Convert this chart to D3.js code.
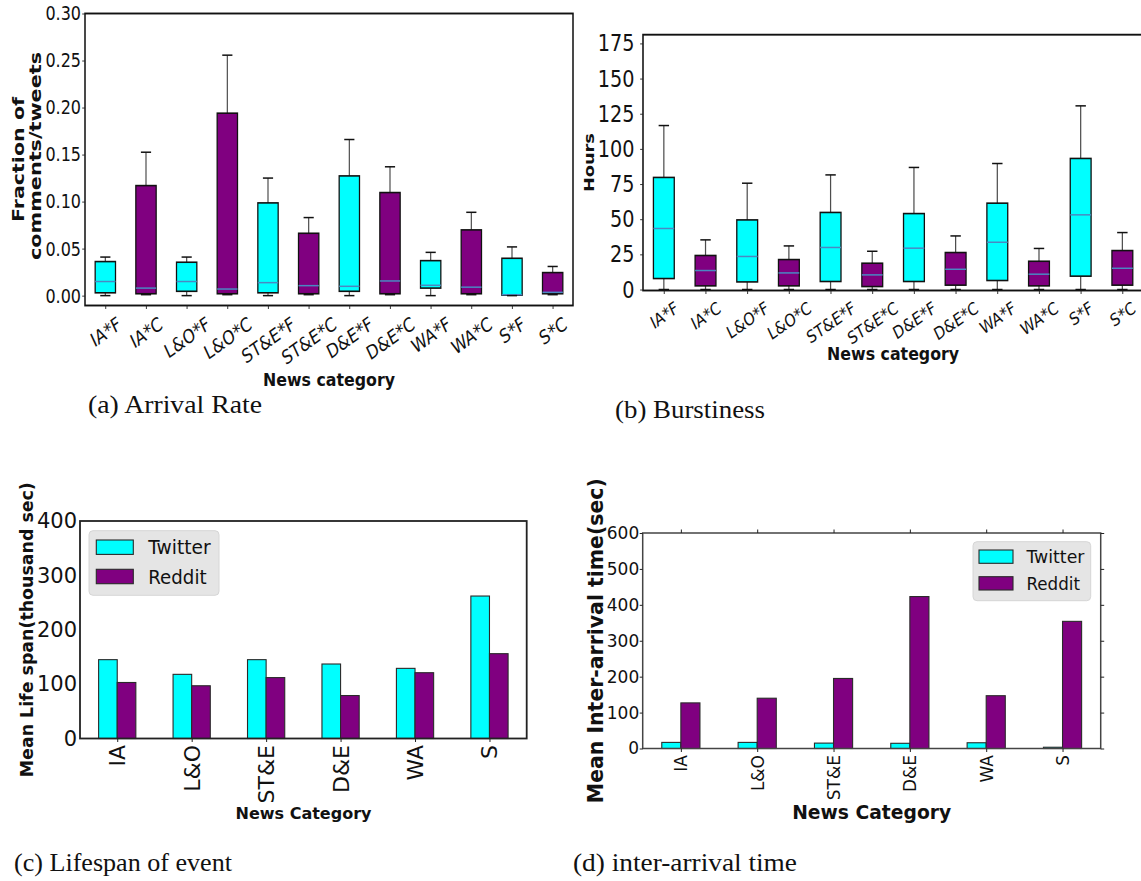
<!DOCTYPE html>
<html>
<head>
<meta charset="utf-8">
<script src="https://cdn.jsdelivr.net/npm/d3@7"></script>
<style>
  body { margin: 0; background: #fff; }
  svg { display: block; }
</style>
</head>
<body>
<svg id="fig" width="1141" height="881"></svg>
<script>
// ---------- data ----------
const boxCats = ["IA*F", "IA*C", "L&O*F", "L&O*C", "ST&E*F", "ST&E*C",
                 "D&E*F", "D&E*C", "WA*F", "WA*C", "S*F", "S*C"];

// (a) arrival rate: lower whisker, Q1, median, Q3, upper whisker
const rateLow  = [0, 0.001, 0, 0.001, 0, 0.001, 0, 0.001, 0, 0.001, 0, 0.001];
const rateQ1   = [0.003, 0.002, 0.0046, 0.002, 0.003, 0.002, 0.0046, 0.002, 0.008, 0.002, 0.0005, 0.002];
const rateMed  = [0.015, 0.008, 0.015, 0.007, 0.0138, 0.0106, 0.0099, 0.0156, 0.011, 0.009, 0.001, 0.0035];
const rateQ3   = [0.0362, 0.117, 0.0355, 0.194, 0.0986, 0.0663, 0.1273, 0.1096, 0.0372, 0.0699, 0.0397, 0.0245];
const rateHigh = [0.041, 0.1525, 0.041, 0.2557, 0.125, 0.083, 0.166, 0.137, 0.046, 0.0886, 0.0518, 0.031];
const rateTicks = [0, 0.05, 0.10, 0.15, 0.20, 0.25, 0.30];

// (b) burstiness in hours
const burstLow  = [0, 0, 0, 0, 0, 0, 0, 0, 0, 0, 0, 0];
const burstQ1   = [7.8, 2.6, 5.4, 2.6, 5.7, 2.1, 5.7, 3.1, 6.4, 2.6, 9.5, 3.1];
const burstMed  = [43.4, 13.5, 23.5, 11.8, 29.9, 10.4, 29.4, 14.4, 33.6, 10.9, 53.1, 15.1];
const burstQ3   = [79.7, 24.2, 49.5, 21.3, 54.8, 18.7, 54, 26.3, 61.4, 20.1, 93.2, 27.7];
const burstHigh = [116.6, 35.3, 75.6, 31, 81.5, 27.2, 86.8, 38.1, 89.6, 29.2, 130.6, 40.5];
const burstTicks = [0, 25, 50, 75, 100, 125, 150, 175];

// (c) and (d) grouped bars
const groupCats = ["IA", "L&O", "ST&E", "D&E", "WA", "S"];
const seriesNames = ["Twitter", "Reddit"];
const lifeTwitter = [145, 118, 145, 137, 129, 262];
const lifeReddit  = [103, 97, 112, 79, 121, 156];
const lifeTicks = [0, 100, 200, 300, 400];
const iatTwitter = [17, 17, 15, 14.5, 16, 3.5];
const iatReddit  = [127, 140, 195, 423, 147, 354];
const iatTicks = [0, 100, 200, 300, 400, 500, 600];

// ---------- helpers ----------
const TW = "#00ffff", RD = "#800080";
const SANS = "DejaVu Sans", SERIF = "Liberation Serif";
const svg = d3.select("#fig");
svg.append("rect").attr("width", 1141).attr("height", 881).attr("fill", "#fff");

function txt(parent, str, o) {
  const t = parent.append("text").text(str)
    .attr("font-family", o.family || SANS)
    .attr("font-size", o.size)
    .attr("font-weight", o.weight || "normal")
    .attr("fill", o.fill || "#111")
    .attr("text-anchor", o.anchor || "start")
    .attr("transform", `translate(${o.x},${o.y})` + (o.rotate ? ` rotate(${o.rotate})` : ""));
  if (o.len) t.attr("textLength", o.len).attr("lengthAdjust", "spacingAndGlyphs");
  return t;
}

function styleTicks(axisG, size) {
  axisG.select(".domain").remove();
  axisG.selectAll(".tick line").attr("stroke", "#222").attr("stroke-width", 1);
  axisG.selectAll(".tick text").attr("font-family", SANS).attr("font-size", size).attr("fill", "#111");
}

// Rotated labels whose rotated bounding box is centred under the tick
function slantLabels(axisG, size, pad, angle) {
  const a = angle * Math.PI / 180;
  axisG.selectAll(".tick text").each(function () {
    const L = this.getComputedTextLength();
    const h = size * 0.9;
    const H = L * Math.sin(a) + h * Math.cos(a);
    d3.select(this).attr("x", null).attr("y", null).attr("dy", null)
      .attr("text-anchor", "middle").attr("dominant-baseline", "central")
      .attr("transform", `translate(0,${pad + H / 2}) rotate(${-angle})`);
  });
}

function verticalLabels(axisG, pad) {
  axisG.selectAll(".tick text")
    .attr("x", null).attr("y", null).attr("dy", null)
    .attr("text-anchor", "end").attr("dominant-baseline", "central")
    .attr("transform", `translate(0,${pad}) rotate(-90)`);
}

// ---------- box panels (a), (b) ----------
function boxPanel(o) {
  const g = svg.append("g").attr("transform", `translate(${o.left},0) scale(${o.sx},1)`);
  const x = d3.scaleLinear().domain([0.5, 12.5]).range([0, o.w]);
  const y = d3.scaleLinear().domain(o.yDomain).range([o.bottom, o.top]);
  const half = x(1.25) - x(1);
  const capHalf = half / 2;

  const rows = boxCats.map((c, i) => ({
    c, i, lo: o.lo[i], q1: o.q1[i], med: o.med[i], q3: o.q3[i], hi: o.hi[i]
  }));
  const b = g.selectAll("g.box").data(rows).join("g").attr("class", "box")
    .attr("transform", d => `translate(${x(d.i + 1)},0)`);

  b.append("line").attr("y1", d => y(d.q3)).attr("y2", d => y(d.hi))
    .attr("stroke", "#4d4d4d").attr("stroke-width", 1.5);
  b.append("line").attr("y1", d => y(d.q1)).attr("y2", d => y(d.lo))
    .attr("stroke", "#4d4d4d").attr("stroke-width", 1.5);
  b.append("rect")
    .attr("x", -half).attr("width", 2 * half)
    .attr("y", d => y(d.q3)).attr("height", d => y(d.q1) - y(d.q3))
    .attr("fill", d => d.c.endsWith("F") ? TW : RD)
    .attr("stroke", "#111").attr("stroke-width", 1.6);
  b.append("line").attr("x1", -half).attr("x2", half)
    .attr("y1", d => y(d.med)).attr("y2", d => y(d.med))
    .attr("stroke", "#4a88c2").attr("stroke-width", 1.5);
  b.append("line").attr("x1", -capHalf).attr("x2", capHalf)
    .attr("y1", d => y(d.hi)).attr("y2", d => y(d.hi))
    .attr("stroke", "#111").attr("stroke-width", 1.5);
  b.append("line").attr("x1", -capHalf).attr("x2", capHalf)
    .attr("y1", d => y(d.lo)).attr("y2", d => y(d.lo))
    .attr("stroke", "#111").attr("stroke-width", 1.5);

  g.append("rect").attr("x", 0).attr("y", o.top)
    .attr("width", o.w).attr("height", o.bottom - o.top)
    .attr("fill", "none").attr("stroke", "#111").attr("stroke-width", 1.9);

  const ya = g.append("g").call(d3.axisLeft(y).tickValues(o.ticks).tickFormat(o.fmt)
    .tickSize(3.5).tickPadding(o.yPad));
  styleTicks(ya, o.yFont);

  const xa = g.append("g").attr("transform", `translate(0,${o.bottom})`)
    .call(d3.axisBottom(x).tickValues(d3.range(1, 13)).tickFormat(i => boxCats[i - 1]).tickSize(3.5));
  styleTicks(xa, o.xFont);
  slantLabels(xa, o.xFont, o.xPad, 30);
  return g;
}

// (a) Arrival rate
const gA = boxPanel({
  left: 85, sx: 0.8, w: 610, top: 13.5, bottom: 305.5,
  yDomain: [-0.0105, 0.30], ticks: rateTicks, fmt: d3.format(".2f"),
  lo: rateLow, q1: rateQ1, med: rateMed, q3: rateQ3, hi: rateHigh,
  yFont: 20, yPad: 1.5, xFont: 19.5, xPad: 9
});
txt(gA, "Fraction of", { x: -76, y: 159.5, size: 20, weight: "bold", anchor: "middle", rotate: -90, len: 125 });
txt(gA, "comments/tweets", { x: -55, y: 156, size: 20, weight: "bold", anchor: "middle", rotate: -90, len: 208 });
txt(gA, "News category", { x: 305, y: 386, size: 17.5, weight: "bold", anchor: "middle", len: 165 });

// (b) Burstiness
const gB = boxPanel({
  left: 643, sx: 0.82, w: 610, top: 34.7, bottom: 290.5,
  yDomain: [-0.7, 181.2], ticks: burstTicks, fmt: d3.format("d"),
  lo: burstLow, q1: burstQ1, med: burstMed, q3: burstQ3, hi: burstHigh,
  yFont: 23.5, yPad: 7, xFont: 17.5, xPad: 9
});
txt(gB, "Hours", { x: -60, y: 162.6, size: 18, weight: "bold", anchor: "middle", rotate: -90, len: 59 });
txt(gB, "News category", { x: 305, y: 360, size: 17.5, weight: "bold", anchor: "middle", len: 161 });

// ---------- grouped bar panels (c), (d) ----------
function barPanel(o) {
  const g = svg.append("g");
  const x = d3.scaleLinear().domain([-0.5, 5.5]).range([o.left, o.right]);
  const y = d3.scaleLinear().domain(o.yDomain).range([o.bottom, o.top]);
  const rows = groupCats.map((c, i) => ({ c, i, tw: o.tw[i], rd: o.rd[i] }));

  g.selectAll("rect.tw").data(rows).join("rect").attr("class", "tw")
    .attr("x", d => x(d.i - 0.25)).attr("width", x(0.25) - x(0))
    .attr("y", d => y(d.tw)).attr("height", d => y(0) - y(d.tw))
    .attr("fill", TW).attr("stroke", "#2a2a2a").attr("stroke-width", 1.1);
  g.selectAll("rect.rd").data(rows).join("rect").attr("class", "rd")
    .attr("x", d => x(d.i)).attr("width", x(0.25) - x(0))
    .attr("y", d => y(d.rd)).attr("height", d => y(0) - y(d.rd))
    .attr("fill", RD).attr("stroke", "#2a2a2a").attr("stroke-width", 1.1);

  g.append("rect").attr("x", o.left).attr("y", o.top)
    .attr("width", o.right - o.left).attr("height", o.bottom - o.top)
    .attr("fill", "none").attr("stroke", o.frame).attr("stroke-width", o.frameW);

  const ya = g.append("g").attr("transform", `translate(${o.left},0)`)
    .call(d3.axisLeft(y).tickValues(o.ticks).tickFormat(d3.format("d")).tickSize(o.yTick).tickPadding(o.yPad));
  styleTicks(ya, o.yFont);

  const xa = g.append("g").attr("transform", `translate(0,${o.bottom})`)
    .call(d3.axisBottom(x).tickValues(d3.range(0, 6)).tickFormat(i => groupCats[i]).tickSize(3.5));
  styleTicks(xa, o.xFont);
  verticalLabels(xa, o.xPad);

  if (o.mirror) {
    const ta = g.append("g").attr("transform", `translate(0,${o.top})`)
      .call(d3.axisTop(x).tickValues(d3.range(0, 6)).tickFormat("").tickSize(3.5));
    styleTicks(ta, 1);
    const ra = g.append("g").attr("transform", `translate(${o.right},0)`)
      .call(d3.axisRight(y).tickValues(o.ticks).tickFormat("").tickSize(3.5));
    styleTicks(ra, 1);
  }

  // legend
  const lg = g.append("g");
  lg.append("rect").attr("x", o.lg.x).attr("y", o.lg.y).attr("width", o.lg.w).attr("height", o.lg.h)
    .attr("rx", 4).attr("fill", "#e5e5e5").attr("stroke", "#d6d6d6").attr("stroke-width", 1);
  seriesNames.forEach((name, k) => {
    lg.append("rect").attr("x", o.lg.px).attr("y", o.lg.py[k])
      .attr("width", o.lg.pw).attr("height", o.lg.ph)
      .attr("fill", k === 0 ? TW : RD).attr("stroke", "#2a2a2a").attr("stroke-width", 1.1);
    txt(lg, name, { x: o.lg.tx, y: o.lg.ty[k], size: o.lg.size, len: o.lg.len[k] });
  });
  return g;
}

// (c) Lifespan of event
const gC = barPanel({
  left: 80, right: 526.7, top: 521, bottom: 738.5,
  yDomain: [0, 400], ticks: lifeTicks, tw: lifeTwitter, rd: lifeReddit,
  frame: "#222", frameW: 1.8, yTick: 0, yPad: 3, yFont: 21, xFont: 22, xPad: 6.5,
  mirror: false,
  lg: { x: 89, y: 530.7, w: 130, h: 64.6, px: 96.3, py: [540, 569.3], pw: 37, ph: 14.4,
        tx: 148.3, ty: [554, 583.7], size: 19, len: [62.4, 58.3] }
});
txt(gC, "Mean Life span(thousand sec)", { x: 32.5, y: 629.7, size: 17.4, weight: "bold", anchor: "middle", rotate: -90, len: 295 });
txt(gC, "News Category", { x: 303.5, y: 819, size: 16, weight: "bold", anchor: "middle", len: 136 });

// (d) Inter-arrival time
const gD = barPanel({
  left: 642.7, right: 1100.7, top: 533, bottom: 748.5,
  yDomain: [0, 600], ticks: iatTicks, tw: iatTwitter, rd: iatReddit,
  frame: "#444", frameW: 1.5, yTick: 3, yPad: 0.5, yFont: 17, xFont: 17, xPad: 6.5,
  mirror: true,
  lg: { x: 973, y: 541.7, w: 117.7, h: 59, px: 979, py: [550, 576.7], pw: 34, ph: 13.3,
        tx: 1026.4, ty: [563.3, 590], size: 17.5, len: [58, 53.6] }
});
txt(gD, "Mean Inter-arrival time(sec)", { x: 603, y: 640.7, size: 20.5, weight: "bold", anchor: "middle", rotate: -90, len: 325 });
txt(gD, "News Category", { x: 871.7, y: 819, size: 20, weight: "bold", anchor: "middle", len: 159 });

// ---------- sub-captions ----------
txt(svg, "(a) Arrival Rate",      { x: 88,  y: 413, size: 25, family: SERIF, len: 174 });
txt(svg, "(b) Burstiness",        { x: 615, y: 418, size: 25, family: SERIF, len: 150 });
txt(svg, "(c) Lifespan of event", { x: 14,  y: 871, size: 25, family: SERIF, len: 218 });
txt(svg, "(d) inter-arrival time",{ x: 573, y: 871, size: 25, family: SERIF, len: 224 });
</script>
</body>
</html>
